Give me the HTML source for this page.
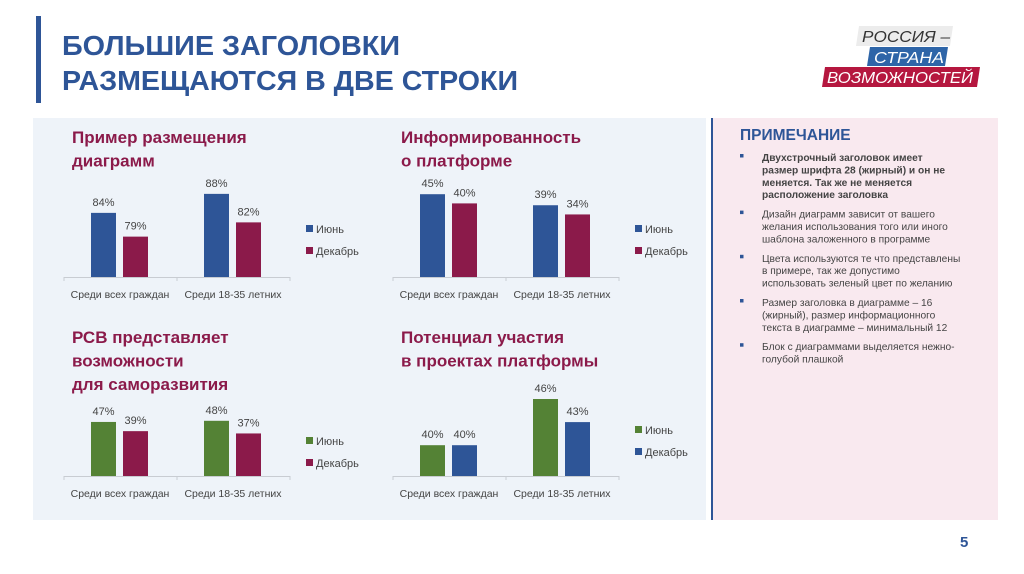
<!DOCTYPE html>
<html><head><meta charset="utf-8">
<style>
html,body{margin:0;padding:0;background:#fff;}
svg{display:block;font-family:"Liberation Sans","DejaVu Sans",sans-serif;}
</style></head>
<body>
<svg id="s" width="1024" height="574" viewBox="0 0 1024 574" xmlns="http://www.w3.org/2000/svg">
<rect x="36" y="16" width="5" height="87" fill="#2e5597"/>
<text x="62" y="55" font-size="28" font-weight="bold" fill="#2e5597" textLength="338" lengthAdjust="spacingAndGlyphs">БОЛЬШИЕ ЗАГОЛОВКИ</text>
<text x="62" y="90" font-size="28" font-weight="bold" fill="#2e5597" textLength="456" lengthAdjust="spacingAndGlyphs">РАЗМЕЩАЮТСЯ В ДВЕ СТРОКИ</text>
<g>
<polygon points="859,26 953,26 950,46 856,46" fill="#ececec"/>
<text x="862" y="42" font-size="16" font-style="italic" fill="#333" textLength="88" lengthAdjust="spacingAndGlyphs">РОССИЯ –</text>
<polygon points="870,47 948,47 945,66 867,66" fill="#2e65a8"/>
<text x="874" y="63" font-size="16" font-style="italic" fill="#fff" textLength="70" lengthAdjust="spacingAndGlyphs">СТРАНА</text>
<polygon points="825,67 980,67 977,87 822,87" fill="#b5173f"/>
<text x="827" y="83" font-size="16" font-style="italic" fill="#fff" textLength="146" lengthAdjust="spacingAndGlyphs">ВОЗМОЖНОСТЕЙ</text>
</g>
<rect x="33" y="118" width="673" height="402" fill="#eef3f9"/>
<rect x="712" y="118" width="286" height="402" fill="#f9e9ef"/>
<rect x="711" y="118" width="2" height="402" fill="#2e5597"/>
<text x="740" y="140" font-size="15.5" font-weight="bold" fill="#2e5597">ПРИМЕЧАНИЕ</text>
<g id="notes" font-size="10.2" fill="#444"></g>
<text x="960" y="547" font-size="15" font-weight="bold" fill="#2e5597">5</text>
<g id="charts"></g>
</svg>
<script>
const NS="http://www.w3.org/2000/svg";
const categories=["Среди всех граждан","Среди 18-35 летних"];
const seriesNames=["Июнь","Декабрь"];
const c1June=[84,88], c1Dec=[79,82];
const c2June=[45,39], c2Dec=[40,34];
const c3June=[47,48], c3Dec=[39,37];
const c4June=[40,46], c4Dec=[40,43];
const chartTitles=[["Пример размещения","диаграмм"],["Информированность","о платформе"],["РСВ представляет","возможности","для саморазвития"],["Потенциал участия","в проектах платформы"]];
const notes=[
 [true,["Двухстрочный заголовок имеет","размер шрифта 28 (жирный) и он не","меняется. Так же не меняется","расположение заголовка"]],
 [false,["Дизайн диаграмм зависит от вашего","желания использования того или иного","шаблона заложенного в программе"]],
 [false,["Цвета используются те что представлены","в примере, так же допустимо","использовать зеленый цвет по желанию"]],
 [false,["Размер заголовка в диаграмме – 16","(жирный), размер информационного","текста в диаграмме – минимальный 12"]],
 [false,["Блок с диаграммами выделяется нежно-","голубой плашкой"]]
];
const BLUE="#2e5597",RED="#8b1a4a",GREEN="#548235";
const svg=document.getElementById('charts');
function el(t,a,p){const e=document.createElementNS(NS,t);for(const k in a)e.setAttribute(k,a[k]);(p||svg).appendChild(e);return e;}
const ng=document.getElementById('notes');let ny=161;
notes.forEach(n=>{
 const b=el('rect',{x:740,y:ny-7,width:3.5,height:3.5,fill:'#2e5597'},ng);
 
 
 n[1].forEach(line=>{const t=el('text',{x:762,y:ny,'font-weight':n[0]?'bold':'normal'},ng);t.textContent=line;
  
  
  ny+=12.4;});
 ny+=7;
});
function chart(ox,axisY,titleY,title,june,dec,c1,c2,ymin,pxPer,legY,name){
 const g=el('g',{});
 
 
 const y=v=>axisY-(v-ymin)*pxPer;
 title.forEach((l,i)=>{const t=el('text',{x:ox+8,y:titleY+i*23.5,'font-size':17,'font-weight':'bold',fill:RED},g);t.textContent=l;
  
  });
 const ax=el('line',{x1:ox,x2:ox+226,y1:axisY+0.5,y2:axisY+0.5,stroke:'#c8ccd2','stroke-width':1},g);
 
 
 [0,113,226].forEach(dx=>el('line',{x1:ox+dx,x2:ox+dx,y1:axisY,y2:axisY+4,stroke:'#c8ccd2'},g));
 categories.forEach((c,i)=>{
  const cx=ox+56+i*113;
  [[june[i],c1,-29],[dec[i],c2,3]].forEach((s,j)=>{
   const top=y(s[0]);
   const r=el('rect',{x:cx+s[2],y:top,width:25,height:axisY-top,fill:s[1]},g);
   
   
   const t=el('text',{x:cx+s[2]+12.5,y:top-7,'font-size':11,fill:'#444','text-anchor':'middle'},g);t.textContent=s[0]+'%';
   
   
  });
  const t=el('text',{x:cx,y:axisY+21,'font-size':10.5,fill:'#444','text-anchor':'middle'},g);t.textContent=c;
  
  
 });
 seriesNames.forEach((s,i)=>{
  const sw=el('rect',{x:ox+242,y:legY+i*22-4,width:7,height:7,fill:i?c2:c1},g);
  
  
  const t=el('text',{x:ox+252,y:legY+i*22+4,'font-size':11,fill:'#444'},g);t.textContent=s;
  
  
 });
}
chart(64,277,143,chartTitles[0],c1June,c1Dec,BLUE,RED,70.5,4.75,229,'chart-placement');
chart(393,277,143,chartTitles[1],c2June,c2Dec,BLUE,RED,0,1.84,229,'chart-awareness');
chart(64,476,343,chartTitles[2],c3June,c3Dec,GREEN,RED,0,1.15,441,'chart-self-development');
chart(393,476,343,chartTitles[3],c4June,c4Dec,GREEN,BLUE,36,7.7,430,'chart-participation');
</script>
</body></html>
